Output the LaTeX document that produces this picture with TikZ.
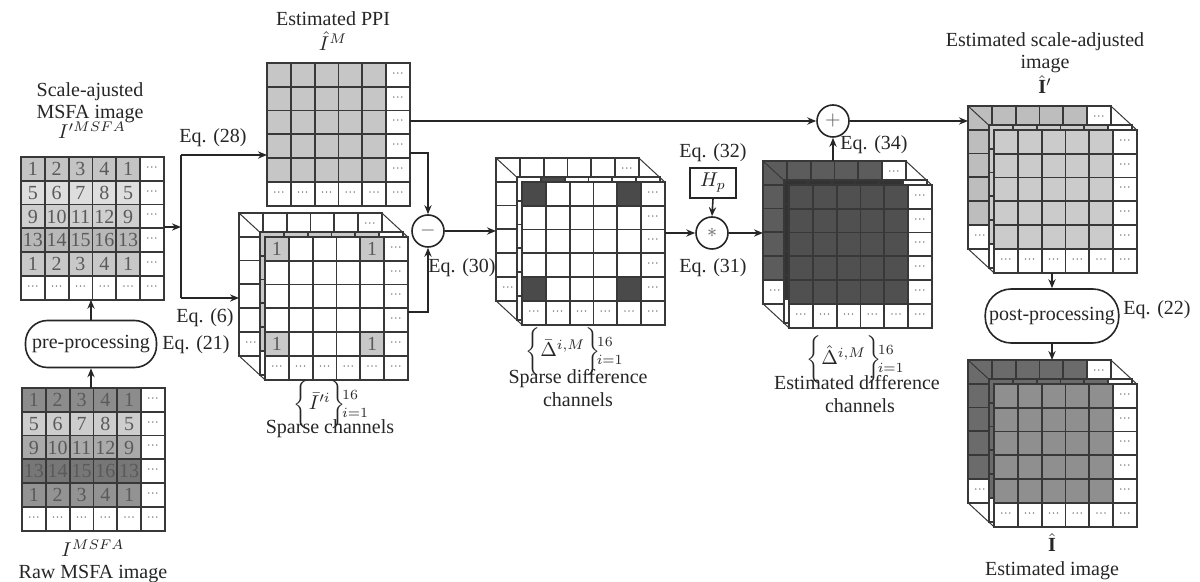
\documentclass[tikz,border=0pt]{standalone}
\usepackage{fontspec}
\setmainfont{Liberation Serif}
\usetikzlibrary{arrows.meta,calc}
\definecolor{ink}{HTML}{262626}
\definecolor{cellline}{HTML}{383838}
\definecolor{dotc}{HTML}{606060}
\definecolor{numc}{HTML}{5a5a5a}
\definecolor{aR0}{HTML}{C4C4C4}
\definecolor{aR1}{HTML}{DEDEDE}
\definecolor{aR2}{HTML}{CFCFCF}
\definecolor{aR3}{HTML}{B8B8B8}
\definecolor{aR4}{HTML}{C8C8C8}
\definecolor{bR0}{HTML}{8C8C8C}
\definecolor{bR1}{HTML}{CDCDCD}
\definecolor{bR2}{HTML}{AAAAAA}
\definecolor{bR3}{HTML}{777777}
\definecolor{bR4}{HTML}{939393}
\definecolor{ppi}{HTML}{C6C6C6}
\definecolor{sparse}{HTML}{C8C8C8}
\definecolor{darkd}{HTML}{4A4A4A}
\definecolor{estdF}{HTML}{505050}
\definecolor{estdB}{HTML}{5C5C5C}
\definecolor{estdM}{HTML}{333333}
\definecolor{sadjF}{HTML}{CBCBCB}
\definecolor{sadjB}{HTML}{BDBDBD}
\definecolor{estF}{HTML}{8F8F8F}
\definecolor{estB}{HTML}{6B6B6B}
\newcommand{\csz}{23.8}
\newcommand{\dotsym}{{\fontsize{6}{6}\selectfont\color{dotc}···}}
\newcommand{\setlabel}[1]{${\renewcommand{\arraystretch}{0.8}\biggl\{#1\biggr\}\!\begin{array}{@{}l@{}}\scriptstyle 16\\ \scriptstyle i=1\end{array}}$}
% plain 6x6 grid: x, y, interior fill, name prefix, dot mode (0 all, 1 back layer, 2 none)
\newcommand{\gridcells}[5]{%
  \foreach \r in {0,...,5}{\foreach \c in {0,...,5}{%
    \pgfmathsetmacro{\cx}{#1+\c*\csz}\pgfmathsetmacro{\cy}{#2+\r*\csz}%
    \pgfmathtruncatemacro{\edge}{(\r==5)||(\c==5)}%
    \pgfmathtruncatemacro{\showdot}{(#5==0)||((#5==1)&&((\r==0)||(\c==0)))}%
    \ifnum\edge=1
      \draw[cell,fill=white] (\cx,\cy) rectangle ++(\csz,\csz);
      \ifnum\showdot=1
        \node[dotn] (#4-\r-\c) at (\cx+\csz/2,\cy+\csz/2) {\dotsym};
      \fi
    \else
      \draw[cell,fill=#3] (\cx,\cy) rectangle ++(\csz,\csz);
    \fi
  }}}
% numbered MSFA grid: x, y, colour prefix, name prefix
\newcommand{\numgrid}[4]{%
  \foreach \r in {0,...,5}{\foreach \c in {0,...,5}{%
    \pgfmathsetmacro{\cx}{#1+\c*\csz}\pgfmathsetmacro{\cy}{#2+\r*\csz}%
    \pgfmathtruncatemacro{\edge}{(\r==5)||(\c==5)}%
    \ifnum\edge=1
      \draw[cell,fill=white] (\cx,\cy) rectangle ++(\csz,\csz);
      \node[dotn] (#4-\r-\c) at (\cx+\csz/2,\cy+\csz/2) {\dotsym};
    \else
      \pgfmathtruncatemacro{\num}{4*mod(\r,4)+mod(\c,4)+1}%
      \draw[cell,fill=#3R\r] (\cx,\cy) rectangle ++(\csz,\csz);
      \node[numn] (#4-\r-\c) at (\cx+\csz/2,\cy+\csz/2) {\num};
    \fi
  }}}
% stacked grid: x, y (front top-left), back fill, middle fill, front fill, prefix
\newcommand{\stackgrid}[6]{%
  \gridcells{#1-26}{#2-24}{#3}{#6b}{1}
  \draw[diag] (#1-26,#2-24) -- (#1,#2);
  \draw[diag] (#1-26+6*\csz,#2-24) -- (#1+6*\csz,#2);
  \draw[diag] (#1-26,#2-24+6*\csz) -- (#1,#2+6*\csz);
  \gridcells{#1-5}{#2-5}{#4}{#6m}{2}
  \gridcells{#1}{#2}{#5}{#6f}{0}
}
\begin{document}
\begin{tikzpicture}[x=0.5pt,y=-0.5pt,
  font=\fontsize{10}{11.5}\selectfont, text=ink,
  cell/.style={draw=cellline,line width=0.9pt},
  diag/.style={draw=cellline,line width=0.5pt},
  dotn/.style={inner sep=0pt},
  numn/.style={inner sep=0pt,text=numc},
  lbl/.style={inner sep=0pt,anchor=base},
  lblc/.style={inner sep=0pt},
  arr/.style={draw=ink,line width=0.8pt,-{Stealth[length=4.5pt,width=3.6pt]}},
  conn/.style={draw=ink,line width=0.8pt},
  op/.style={circle,draw=ink,line width=0.8pt,minimum size=16pt,inner sep=0pt,fill=white},
  procbox/.style={draw=ink,line width=0.8pt,rounded corners=11pt,inner sep=2pt,fill=white}]
\useasboundingbox (0,0) rectangle (1200,582);
\fill[white] (0,0) rectangle (1200,582);

% ---------- grids ----------
\numgrid{21}{157}{a}{g1}
\numgrid{22}{388}{b}{g2}
\gridcells{267}{63}{ppi}{g3}{0}

\stackgrid{265}{237}{white}{sparse}{white}{g4}
\foreach \r/\c in {0/0,0/4,4/0,4/4}{
  \draw[cell,fill=sparse] (265+\c*\csz,237+\r*\csz) rectangle ++(\csz,\csz);
  \node[numn] (g4one-\r-\c) at (265+\c*\csz+\csz/2,237+\r*\csz+\csz/2) {1};
}
\stackgrid{522}{182}{white}{white}{white}{g5}
\draw[cell,fill=darkd] (522-5+1*\csz,182-5) rectangle ++(\csz,5);
\foreach \r/\c in {0/0,0/4,4/0,4/4}{
  \draw[cell,fill=darkd] (522+\c*\csz,182+\r*\csz) rectangle ++(\csz,\csz);
}
\stackgrid{789}{185}{estdB}{estdM}{estdF}{g6}
\stackgrid{994}{130}{sadjB}{sadjF}{sadjF}{g7}
\stackgrid{994}{384}{estB}{estB}{estF}{g8}

% ---------- operators and boxes ----------
\node[op] (minus) at (428,231) {\color{numc}$-$};
\node[op] (star) at (712,233) {\color{numc}$*$};
\node[op] (plus) at (833,121) {\color{numc}$+$};
\node[draw=ink,line width=0.8pt,minimum width=23pt,minimum height=15pt,inner sep=0pt] (hp) at (713,183) {$H_p$};
\node[procbox,minimum width=65.5pt,minimum height=23.5pt] (pre) at (91,344) {pre-processing};
\node[procbox,minimum width=65pt,minimum height=27pt,rounded corners=13pt] (post) at (1052,316) {post-processing};

% ---------- connection points ----------
\coordinate (g2out) at (91,388);
\coordinate (g1in) at (91,299.8);
\coordinate (g1out) at (163.8,227);
\coordinate (j1) at (181,227);
\coordinate (j1top) at (181,155);
\coordinate (j1bot) at (181,298);
\coordinate (g3in) at (267,155);
\coordinate (g4in) at (239,298);
\coordinate (g3outA) at (409.8,121);
\coordinate (g3outB) at (409.8,153);
\coordinate (g4out) at (407.8,312);
\coordinate (g5in) at (496,231);
\coordinate (g5out) at (664.8,233);
\coordinate (g6in) at (763,233);
\coordinate (g6top) at (833,161);
\coordinate (g7in) at (968,121);
\coordinate (g7out) at (1052,272.8);
\coordinate (g8in) at (1052,360);

% ---------- connectors ----------
\draw[arr] (g2out) -- (pre.south);
\draw[arr] (pre.north) -- (g1in);
\draw[arr] (g1out) -- (j1);
\draw[conn] (j1top) -- (j1bot);
\draw[arr] (j1top) -- (g3in);
\draw[arr] (j1bot) -- (g4in);
\draw[arr] (g3outB) -| (minus.north);
\draw[arr] (g4out) -| (minus.south);
\draw[arr] (minus.east) -- (g5in);
\draw[arr] (g5out) -- (star.west);
\draw[arr] (hp.south) -- (star.north);
\draw[arr] (star.east) -- (g6in);
\draw[arr] (g6top) -- (plus.south);
\draw[arr] (g3outA) -- (plus.west);
\draw[arr] (plus.east) -- (g7in);
\draw[arr] (g7out) -- (post.north);
\draw[arr] (post.south) -- (g8in);

% ---------- labels ----------
\node[lbl] (t1a) at (90,97) {Scale-ajusted};
\node[lbl] (t1b) at (90,119) {MSFA image};
\node[lbl] (t1c) at (92,139) {$I'^{MSFA}$};
\node[lbl] (t2a) at (93,557) {$I^{MSFA}$};
\node[lbl] (t2b) at (93,579) {Raw MSFA image};
\node[lbl] (t3a) at (333,26) {Estimated PPI};
\node[lbl] (t3b) at (333,51) {$\hat{I}^{M}$};
\node[lbl] (eq28) at (213,143) {Eq. (28)};
\node[lbl] (eq6) at (205,323) {Eq. (6)};
\node[lbl] (eq21) at (196,350) {Eq. (21)};
\node[lblc] (t4a) at (331,405) {\setlabel{\bar{I}'^{i}}};
\node[lbl] (t4b) at (330,434) {Sparse channels};
\node[lbl] (eq30) at (462,273) {Eq. (30)};
\node[lblc] (t5a) at (574,352) {\setlabel{\bar{\Delta}^{i,M}}};
\node[lbl] (t5b) at (578,384) {Sparse difference};
\node[lbl] (t5c) at (578,407) {channels};
\node[lbl] (eq32) at (713,158) {Eq. (32)};
\node[lbl] (eq31) at (713,273) {Eq. (31)};
\node[lbl] (eq34) at (874,150) {Eq. (34)};
\node[lblc] (t6a) at (855,360) {\setlabel{\hat{\Delta}^{i,M}}};
\node[lbl] (t6b) at (857,390) {Estimated difference};
\node[lbl] (t6c) at (860,413) {channels};
\node[lbl] (t7a) at (1045,47) {Estimated scale-adjusted};
\node[lbl] (t7b) at (1045,69) {image};
\node[lbl] (t7c) at (1045,94) {$\hat{\mathbf{I}}'$};
\node[lbl] (eq22) at (1157,315) {Eq. (22)};
\node[lbl] (t8a) at (1052,552) {$\hat{\mathbf{I}}$};
\node[lbl] (t8b) at (1052,575) {Estimated image};
\end{tikzpicture}
\end{document}
